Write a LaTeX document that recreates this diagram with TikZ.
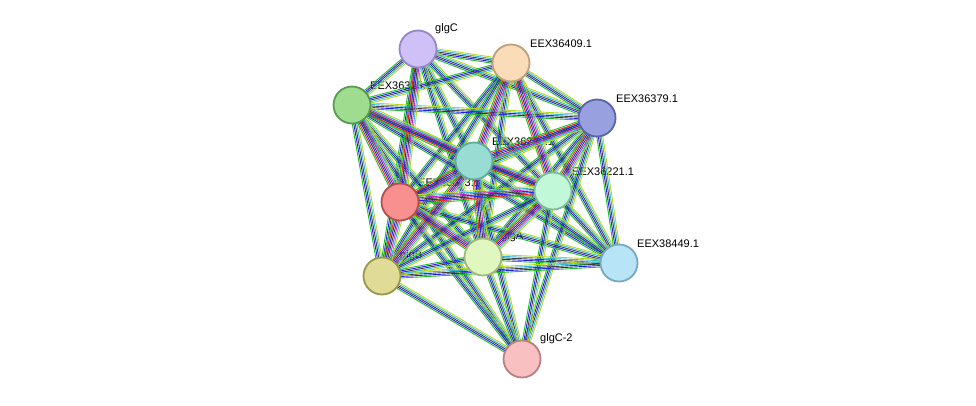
\documentclass[tikz,border=0pt]{standalone}
\usepackage{fontspec}
\setmainfont{Liberation Sans}
\usetikzlibrary{calc}
\definecolor{ecyan}{HTML}{30B8D8}
\definecolor{eyel}{HTML}{B8D820}
\definecolor{egreen}{HTML}{20C020}
\definecolor{eblue}{HTML}{2020F0}
\definecolor{edark}{HTML}{404040}
\definecolor{emag}{HTML}{D020D0}
\definecolor{ered}{HTML}{F02020}
\newcommand{\ebundle}[3]{%
  \foreach \c [count=\i] in {#3}{%
    \draw[\c,line width=0.9pt] ($(#1)!{(\i-3)*1.5pt}!90:(#2)$) -- ($(#2)!{(\i-3)*1.5pt}!-90:(#1)$);}}
\begin{document}
\begin{tikzpicture}[x=1pt,y=-1pt]
\tikzset{prot/.style={circle,minimum size=37pt,inner sep=0pt,line width=1.8pt},
  plab/.style={font=\fontsize{11}{12}\selectfont,anchor=south west,inner sep=1pt}}
\useasboundingbox[fill=white] (0,0) rectangle (976,405);
% positions
\coordinate (glgC) at (418,49);
\coordinate (e409) at (511,63);
\coordinate (e315) at (352,105);
\coordinate (e379) at (597,118);
\coordinate (e220) at (474,161);
\coordinate (e073) at (400,202);
\coordinate (e221) at (553,191);
\coordinate (glgA) at (483,257);
\coordinate (glgB) at (382,276);
\coordinate (e449) at (619,263);
\coordinate (glgC2) at (522,359);
% labels
\node[plab] (lglgC) at (434,35) {glgC};
\node[plab] (l409) at (529,49) {EEX36409.1};
\node[plab] (l315) at (369,91) {EEX36315.1};
\node[plab] (l379) at (615,104) {EEX36379.1};
\node[plab] (l220) at (491,147) {EEX36220.1};
\node[plab] (l073) at (417,188) {EEX38073.1};
\node[plab] (l221) at (571,177) {EEX36221.1};
\node[plab] (lglgA) at (500,243) {glgA};
\node[plab] (lglgB) at (399,262) {glgB};
\node[plab] (l449) at (636,249) {EEX38449.1};
\node[plab] (lglgC2) at (539,345) {glgC-2};
% edges
\foreach \a/\b in {glgC/e409,glgC/e315,glgC/e379,glgC/e220,glgC/e221,glgC/glgA,glgC/glgB,
  e409/e315,e409/e379,e409/e073,e409/glgA,e409/glgB,e409/e449,
  e315/e379,e315/e221,e315/glgA,e315/glgB,e315/glgC2,e315/e449,
  e379/e073,e379/glgA,e379/glgB,e379/e449,e379/glgC2,
  e220/e449,e220/glgC2,e073/e449,e073/glgC2,e221/glgB,e221/glgC2,
  glgA/e449,glgA/glgC2,glgB/glgC2,glgB/e449,e221/e449,glgA/glgB}
  {\ebundle{\a}{\b}{egreen,eblue,edark,ecyan,eyel}}
\foreach \a/\b in {glgC/e073,e409/e220,e409/e221,e315/e220,e315/e073,e379/e220,e379/e221,
  e220/e073,e220/e221,e220/glgA,e220/glgB,e073/e221,e073/glgA,e073/glgB,e221/glgA}
  {\ebundle{\a}{\b}{egreen,ered,eblue,edark,emag,ecyan,eyel}}
% proteins
\node[prot,fill={rgb,255:red,208;green,192;blue,248},draw={rgb,255:red,150;green,135;blue,200}] (nglgC) at (glgC) {};
\node[prot,fill={rgb,255:red,250;green,220;blue,184},draw={rgb,255:red,190;green,160;blue,125}] (n409) at (e409) {};
\node[prot,fill={rgb,255:red,160;green,220;blue,144},draw={rgb,255:red,90;green,154;blue,80}] (n315) at (e315) {};
\node[prot,fill={rgb,255:red,152;green,160;blue,224},draw={rgb,255:red,90;green,100;blue,168}] (n379) at (e379) {};
\node[prot,fill={rgb,255:red,152;green,220;blue,212},draw={rgb,255:red,96;green,168;blue,160}] (n220) at (e220) {};
\node[prot,fill={rgb,255:red,248;green,144;blue,144},draw={rgb,255:red,176;green,80;blue,80}] (n073) at (e073) {};
\node[prot,fill={rgb,255:red,192;green,248;blue,216},draw={rgb,255:red,128;green,184;blue,152}] (n221) at (e221) {};
\node[prot,fill={rgb,255:red,224;green,248;blue,192},draw={rgb,255:red,160;green,184;blue,128}] (nglgA) at (glgA) {};
\node[prot,fill={rgb,255:red,224;green,220;blue,152},draw={rgb,255:red,152;green,152;blue,74}] (nglgB) at (glgB) {};
\node[prot,fill={rgb,255:red,184;green,228;blue,248},draw={rgb,255:red,120;green,168;blue,192}] (n449) at (e449) {};
\node[prot,fill={rgb,255:red,248;green,192;blue,192},draw={rgb,255:red,184;green,128;blue,128}] (nglgC2) at (glgC2) {};
\end{tikzpicture}
\end{document}
